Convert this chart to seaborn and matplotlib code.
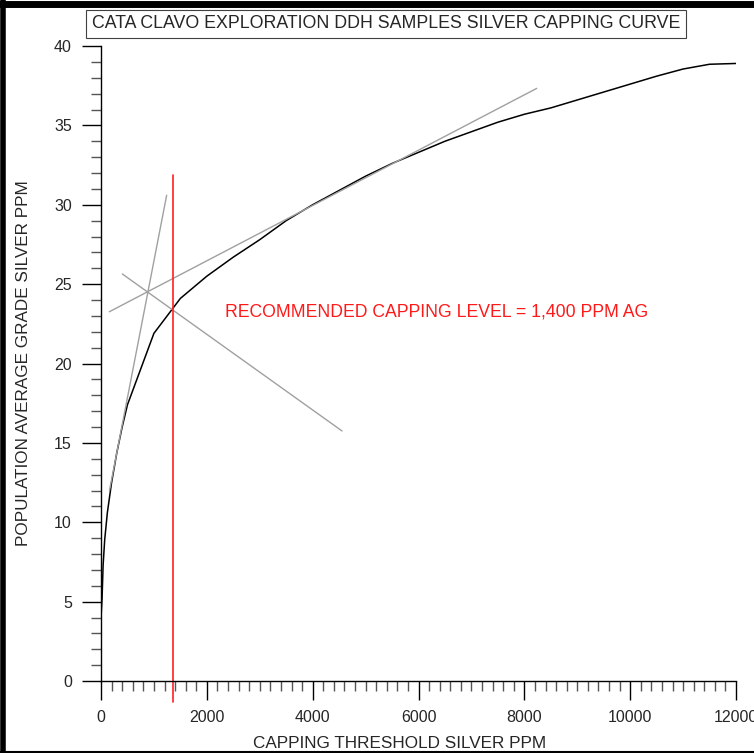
import seaborn as sns
import pandas as pd
import numpy as np
import matplotlib
matplotlib.use('Agg')
from matplotlib import pyplot as plt
from matplotlib.ticker import MultipleLocator
from matplotlib.lines import Line2D

# capping curve (threshold ppm, population average grade ppm)
threshold = [0, 20, 40, 70, 120, 200, 300, 400, 500, 1000, 1500, 2000, 2500,
             3000, 3500, 4000, 4500, 5000, 5500, 6000, 6500, 7000, 7500, 8000,
             8500, 9000, 9500, 10000, 10500, 11000, 11500, 12000]
avg_grade = [4.0, 5.2, 7.3, 8.9, 10.6, 12.5, 14.4, 16.0, 17.4, 21.9, 24.1, 25.5,
             26.7, 27.8, 29.0, 30.0, 30.9, 31.8, 32.6, 33.3, 34.0, 34.6, 35.2,
             35.7, 36.1, 36.6, 37.1, 37.6, 38.1, 38.55, 38.85, 38.9]

# grey construction lines (x pair, y pair)
steep_x = [160, 1241]
steep_y = [12.0, 30.6]
shallow_x = [158, 8234]
shallow_y = [23.26, 37.33]
cross_x = [403, 4555]
cross_y = [25.64, 15.75]

cap_level = 1355
cap_y = [-1.3, 31.87]

title = 'CATA CLAVO EXPLORATION DDH SAMPLES SILVER CAPPING CURVE'
note = 'RECOMMENDED CAPPING LEVEL = 1,400 PPM AG'

sns.set_theme(style='white')
plt.rcParams['font.family'] = ['Liberation Sans', 'DejaVu Sans']

fig = plt.figure(figsize=(7.54, 7.53), dpi=100)
ax = fig.add_axes([101 / 754, 72 / 753, 635 / 754, 635 / 753])

data = pd.DataFrame({'threshold': threshold, 'grade': avg_grade})
sns.lineplot(data=data, x='threshold', y='grade', color='black', lw=1.1, ax=ax)

for xs, ys in [(steep_x, steep_y), (shallow_x, shallow_y), (cross_x, cross_y)]:
    ax.plot(xs, ys, color='#a0a0a0', lw=1.0)

ax.plot([cap_level, cap_level], cap_y, color='#ff2020', lw=1.2, clip_on=False)
ax.text(2343, 23.25, note, color='#ff1a1a', fontsize=12.7, va='center', ha='left')

ax.set_xlim(0, 12000)
ax.set_ylim(0, 40)
ax.xaxis.set_major_locator(MultipleLocator(2000))
ax.xaxis.set_minor_locator(MultipleLocator(200))
ax.yaxis.set_major_locator(MultipleLocator(5))
ax.yaxis.set_minor_locator(MultipleLocator(1))
ax.tick_params(which='major', direction='out', length=14, width=1.0, color='black',
               labelsize=11.5, pad=7, bottom=True, left=True)
ax.tick_params(which='minor', direction='out', length=7, width=1.0, color='#555555',
               bottom=True, left=True)
for s in ['top', 'right']:
    ax.spines[s].set_visible(False)
for s in ['left', 'bottom']:
    ax.spines[s].set_color('black')
    ax.spines[s].set_linewidth(1.0)

ax.set_xlabel('CAPPING THRESHOLD SILVER PPM', fontsize=12.3)
ax.set_ylabel('POPULATION AVERAGE GRADE SILVER PPM', fontsize=12.3)
ax.xaxis.set_label_coords(0.47, -0.086)
ax.yaxis.set_label_coords(-0.111, 0.5)

fig.text(386 / 754, 1 - 24 / 753, title, fontsize=12.8, ha='center', va='center',
         bbox=dict(boxstyle='square,pad=0.3', fc='white', ec='#404040', lw=0.8))

# outer frame
fig.add_artist(Line2D([3 / 754, 3 / 754], [0, 1], transform=fig.transFigure, color='black', lw=4))
fig.add_artist(Line2D([0, 1], [1 - 3.5 / 753, 1 - 3.5 / 753], transform=fig.transFigure, color='black', lw=5))
fig.add_artist(Line2D([0, 1], [1.5 / 753, 1.5 / 753], transform=fig.transFigure, color='black', lw=1.5))

fig.savefig('out.png', dpi=100, facecolor='white')
